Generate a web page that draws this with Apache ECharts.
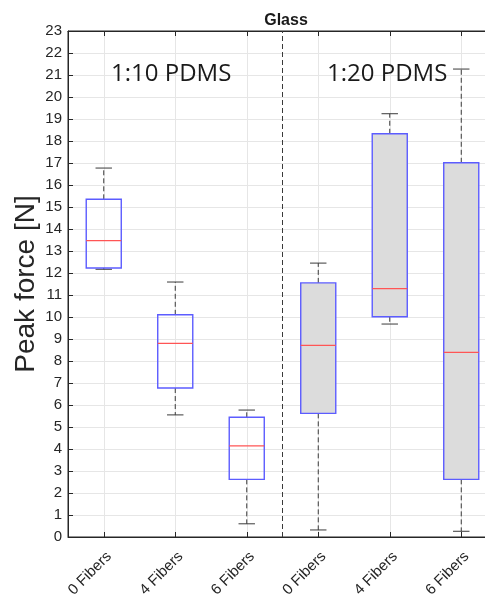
<!DOCTYPE html>
<html>
<head>
<meta charset="utf-8">
<script src="https://cdn.jsdelivr.net/npm/echarts@6/dist/echarts.min.js"></script>
<style>
  html, body { margin: 0; padding: 0; background: #fff; }
  #main { width: 485px; height: 596px; }
</style>
</head>
<body>
<div id="main"></div>
<script>
// categories and box statistics
var categories = ['0 Fibers', '4 Fibers', '6 Fibers', '0 Fibers', '4 Fibers', '6 Fibers'];
var pdms = ['1:10', '1:10', '1:10', '1:20', '1:20', '1:20'];
var whiskerLow = [12.17, 5.55, 0.6, 0.32, 9.68, 0.26];
var q1 = [12.23, 6.77, 2.62, 5.62, 10.01, 2.62];
var median = [13.47, 8.8, 4.14, 8.71, 11.29, 8.39];
var q3 = [15.35, 10.1, 5.44, 11.55, 18.33, 17.01];
var whiskerHigh = [16.77, 11.59, 5.77, 12.45, 19.24, 21.27];
var yTicks = [0, 23, 1]; // min, max, step

var boxData = categories.map(function (c, i) {
  return [i, whiskerLow[i], q1[i], median[i], q3[i], whiskerHigh[i]];
});

var chart = echarts.init(document.getElementById('main'));

function renderBox(params, api) {
  var i = api.value(0);
  var x = api.coord([i, 0])[0];
  var step = api.size([1, 0])[0];
  var bw = step * 0.49;
  var cw = step * 0.23;
  var yLow = api.coord([i, api.value(1)])[1];
  var yQ1 = api.coord([i, api.value(2)])[1];
  var yMed = api.coord([i, api.value(3)])[1];
  var yQ3 = api.coord([i, api.value(4)])[1];
  var yHigh = api.coord([i, api.value(5)])[1];
  var filled = pdms[params.dataIndex] === '1:20';
  var dashed = { stroke: '#3a3a3a', lineWidth: 1, lineDash: [5, 3] };
  var solid = { stroke: '#3a3a3a', lineWidth: 1 };
  return {
    type: 'group',
    children: [
      { type: 'line', shape: { x1: x, y1: yQ3, x2: x, y2: yHigh }, style: dashed },
      { type: 'line', shape: { x1: x, y1: yQ1, x2: x, y2: yLow }, style: dashed },
      { type: 'line', shape: { x1: x - cw / 2, y1: yHigh, x2: x + cw / 2, y2: yHigh }, style: solid },
      { type: 'line', shape: { x1: x - cw / 2, y1: yLow, x2: x + cw / 2, y2: yLow }, style: solid },
      { type: 'rect', shape: { x: x - bw / 2, y: yQ3, width: bw, height: yQ1 - yQ3 },
        style: { fill: filled ? '#dcdcdc' : 'rgba(0,0,0,0)', stroke: '#5c5cff', lineWidth: 1.4 } },
      { type: 'line', shape: { x1: x - bw / 2, y1: yMed, x2: x + bw / 2, y2: yMed },
        style: { stroke: '#ff5555', lineWidth: 1.2 } }
    ]
  };
}

function renderSeparator(params, api) {
  var xa = api.coord([2, 0])[0];
  var xb = api.coord([3, 0])[0];
  var x = (xa + xb) / 2;
  var y0 = api.coord([2, yTicks[0]])[1];
  var y1 = api.coord([2, yTicks[1]])[1];
  return {
    type: 'line',
    shape: { x1: x, y1: y0, x2: x, y2: y1 },
    style: { stroke: '#3a3a3a', lineWidth: 1, lineDash: [5, 3] }
  };
}

var option = {
  backgroundColor: '#fff',
  animation: false,
  title: [
    { text: 'Glass', left: 281, top: 8, textAlign: 'center',
      textStyle: { fontFamily: 'Liberation Sans', fontSize: 16, fontWeight: 'bold', color: '#1a1a1a' } },
    { text: '1:10 PDMS', left: 106, top: 57,
      textStyle: { fontFamily: 'Open Sans', fontSize: 24, fontWeight: 'normal', color: '#1a1a1a' } },
    { text: '1:20 PDMS', left: 322, top: 57,
      textStyle: { fontFamily: 'Open Sans', fontSize: 24, fontWeight: 'normal', color: '#1a1a1a' } }
  ],
  grid: {
    left: 68, top: 31, right: -12, bottom: 59,
    outerBoundsMode: 'none',
    containLabel: false,
    show: true, borderColor: '#262626', borderWidth: 1
  },
  xAxis: [{
    type: 'category',
    data: categories,
    boundaryGap: true,
    axisLine: { show: true, lineStyle: { color: '#262626' } },
    axisTick: { show: true, inside: true, alignWithLabel: true, length: 5, lineStyle: { color: '#262626' } },
    splitLine: { show: true, alignWithLabel: true, lineStyle: { color: '#e6e6e6' } },
    axisLabel: { rotate: 45, margin: 12, verticalAlign: 'top', fontFamily: 'Liberation Sans', fontSize: 15, color: '#262626' }
  }, {
    type: 'category',
    position: 'top',
    data: categories,
    axisLine: { show: true, lineStyle: { color: '#262626' } },
    axisTick: { show: true, inside: true, alignWithLabel: true, length: 5, lineStyle: { color: '#262626' } },
    axisLabel: { show: false },
    splitLine: { show: false }
  }],
  yAxis: {
    type: 'value',
    min: yTicks[0], max: yTicks[1], interval: yTicks[2],
    name: 'Peak force [N]',
    nameLocation: 'middle',
    nameGap: 28,
    nameMoveOverlap: false,
    nameTextStyle: { fontFamily: 'Liberation Sans', fontSize: 28, color: '#262626' },
    axisLine: { show: true, lineStyle: { color: '#262626' } },
    axisTick: { show: true, inside: true, length: 5, lineStyle: { color: '#262626' } },
    splitLine: { show: true, lineStyle: { color: '#e6e6e6' } },
    axisLabel: { margin: 6, fontFamily: 'Liberation Sans', fontSize: 15, color: '#262626' }
  },
  series: [{
    type: 'custom',
    renderItem: renderSeparator,
    data: [[0, 0]],
    silent: true,
    z: 3
  }, {
    type: 'custom',
    renderItem: renderBox,
    encode: { x: 0, y: [1, 2, 3, 4, 5] },
    data: boxData,
    z: 4
  }]
};

chart.setOption(option);
window.onresize = chart.resize;
</script>
</body>
</html>
